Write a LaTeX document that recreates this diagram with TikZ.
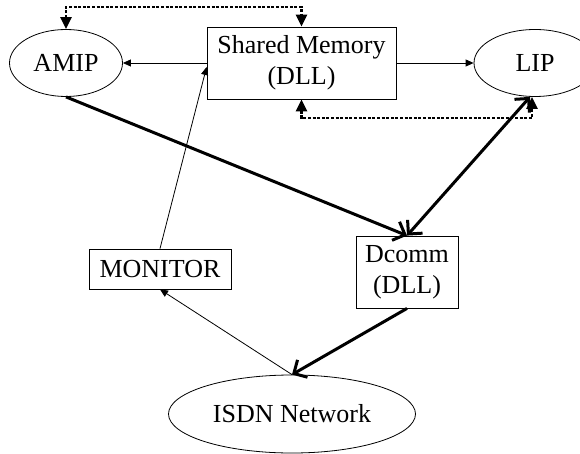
\documentclass[tikz,border=0pt]{standalone}
\usepackage{fontspec}
\setmainfont{Liberation Serif}
\usetikzlibrary{shapes.geometric,arrows.meta}

\begin{document}
\begin{tikzpicture}[x=1pt,y=-1pt,font=\fontsize{26}{31}\selectfont,
	main node/.style={ellipse,draw,line width=0.8pt,inner sep=0pt},
	box node/.style={rectangle,draw,line width=0.8pt,inner sep=0pt,align=center},
	thin/.style={line width=0.8pt,-{Triangle[length=8pt,width=7pt]}},
	heavy/.style={line width=3pt,-{Straight Barb[length=10pt,width=20pt,line width=3pt]}},
	dots/.style={line width=2.8pt,dash pattern=on 3pt off 1.6pt,{Triangle[length=12pt,width=11pt]}-{Triangle[length=12pt,width=11pt]}}]
	
	\useasboundingbox (0,0) rectangle (580,454);
	\clip (0,0) rectangle (580,454);
	
	\node[main node,minimum width=113pt,minimum height=67pt] (amip) at (66,63) {AMIP};
	\node[box node,minimum width=189pt,minimum height=72pt] (shm) at (301.5,63) {Shared Memory\\(DLL)};
	\node[main node,minimum width=122pt,minimum height=67pt] (lip) at (535,63) {LIP};
	\node[box node,minimum width=142pt,minimum height=40pt] (mon) at (160,269) {MONITOR};
	\node[box node,minimum width=102pt,minimum height=72pt] (dcomm) at (407,272) {Dcomm\\(DLL)};
	\node[main node,minimum width=247pt,minimum height=78pt] (isdn) at (292,414) {ISDN Network};
	
	\coordinate (top) at (200,7);
	\coordinate (low) at (420,118);
	
	\draw[thin] (shm.west) -- (amip.east);
	\draw[thin] (shm.east) -- (lip.west);
	\draw[thin] (mon.north) -- ([yshift=-4pt]shm.west);
	\draw[thin] (isdn.north) -- (mon.south);
	
	\draw[heavy] (amip.south) -- (dcomm.north);
	\draw[heavy,{Straight Barb[length=10pt,width=20pt,line width=3pt]}-{Straight Barb[length=10pt,width=20pt,line width=3pt]}] (dcomm.north) -- ([xshift=-5pt]lip.south);
	\draw[heavy] (dcomm.south) -- (isdn.north);
	
	\draw[dots] (amip.north) |- (top) -| (shm.north);
	\draw[dots] (shm.south) |- (low) -| ([xshift=-3pt]lip.south);
\end{tikzpicture}
\end{document}
